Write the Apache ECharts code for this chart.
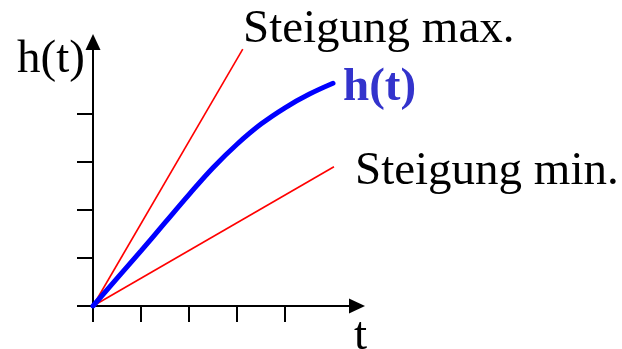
<!DOCTYPE html>
<html>
<head>
<meta charset="utf-8">
<style>
  html, body { margin: 0; padding: 0; background: #fff; }
  #chart { width: 622px; height: 349px; }
</style>
<script src="https://cdn.jsdelivr.net/npm/echarts@6/dist/echarts.min.js"></script>
</head>
<body>
<div id="chart"></div>
<script>
// Height curve h(t), sampled at t
const tValues = [0, 0.5, 1, 1.5, 2, 2.5, 3, 3.5, 4, 4.5, 5];
const hValues = [0, 0.575, 1.15, 1.735, 2.32, 2.88, 3.37, 3.79, 4.13, 4.41, 4.64];

// Tangent lines through the origin: [t, h] end points
const slopeMaxLine = [[0, 0], [3.12, 5.35]];
const slopeMinLine = [[0, 0], [5.02, 2.9]];

// Tick positions on both axes
const tTicks = [0, 1, 2, 3, 4];
const hTicks = [0, 1, 2, 3, 4];

const SERIF = '"Liberation Serif", "Times New Roman", serif';

const chart = echarts.init(document.getElementById('chart'), null, { renderer: 'canvas' });

const axisCommon = {
  type: 'value',
  min: 0,
  max: 5.5,
  axisLine: {
    show: true,
    onZero: false,
    symbol: ['none', 'triangle'],
    symbolSize: [15, 16],
    lineStyle: { color: '#000', width: 2 }
  },
  axisTick: { show: true, inside: false, length: 16, lineStyle: { color: '#000', width: 2 } },
  axisLabel: { show: false },
  splitLine: { show: false }
};

chart.setOption({
  backgroundColor: '#fff',
  animation: false,
  grid: { left: 93, top: 42, width: 264, height: 264 },
  xAxis: Object.assign({}, axisCommon, {
    axisTick: Object.assign({}, axisCommon.axisTick, { customValues: tTicks })
  }),
  yAxis: Object.assign({}, axisCommon, {
    axisTick: Object.assign({}, axisCommon.axisTick, { customValues: hTicks })
  }),
  series: [
    {
      name: 'Steigung max.',
      type: 'line',
      data: slopeMaxLine,
      showSymbol: false,
      lineStyle: { color: '#ff0000', width: 1.6 },
      z: 2
    },
    {
      name: 'Steigung min.',
      type: 'line',
      data: slopeMinLine,
      showSymbol: false,
      lineStyle: { color: '#ff0000', width: 1.6 },
      z: 2
    },
    {
      name: 'h(t)',
      type: 'line',
      smooth: 0.4,
      data: tValues.map((t, i) => [t, hValues[i]]),
      showSymbol: false,
      lineStyle: { color: '#0000ff', width: 5, cap: 'round' },
      z: 3
    }
  ],
  graphic: [
    { type: 'text', left: 17, top: 36, style: { text: 'h(t)', font: '47px ' + SERIF, fill: '#000' } },
    { type: 'text', left: 243, top: 6, style: { text: 'Steigung max.', font: '47px ' + SERIF, fill: '#000' } },
    { type: 'text', left: 343, top: 64, style: { text: 'h(t)', font: 'bold 47px ' + SERIF, fill: '#3333cc' } },
    { type: 'text', left: 355, top: 148, style: { text: 'Steigung min.', font: '47px ' + SERIF, fill: '#000' } },
    { type: 'text', left: 354, top: 313, style: { text: 't', font: '47px ' + SERIF, fill: '#000' } }
  ]
});
</script>
</body>
</html>
